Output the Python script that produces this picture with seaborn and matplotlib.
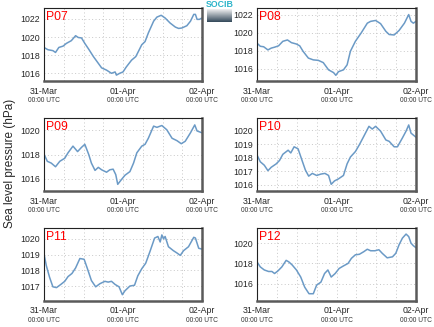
import numpy as np
import pandas as pd
import matplotlib
matplotlib.use("Agg")
import matplotlib.pyplot as plt
import matplotlib.dates as mdates
import seaborn as sns

# ---- data (hours since 31-Mar 00:00 UTC, sea level pressure hPa) ----
p07_h = [0, 1.2, 2.7, 3.5, 4.5, 5.8, 6.8, 8.3, 9.6, 10.4, 11.4, 12.4, 13.6, 15, 16.5, 17.5, 19, 20.5, 21.6, 22, 23, 24, 25, 26.6, 27.9, 29.7, 30.7, 31.7, 33.3, 34.3, 35.6, 36.8, 38.3, 39.9, 40.9, 41.9, 43.4, 44.5, 45.5, 46, 46.5, 47.2, 48]
p07_v = [1018.85, 1018.6, 1018.5, 1018.3, 1018.85, 1019.0, 1019.3, 1019.6, 1020.15, 1019.95, 1019.9, 1019.3, 1018.65, 1017.85, 1017.1, 1016.6, 1016.35, 1016.0, 1016.15, 1015.8, 1016.0, 1016.15, 1016.7, 1017.45, 1017.85, 1019.15, 1019.5, 1020.45, 1021.75, 1022.2, 1022.4, 1022.1, 1021.55, 1021.1, 1020.95, 1021.0, 1021.25, 1021.75, 1022.5, 1022.5, 1021.95, 1021.95, 1022.1]

p08_h = [0, 1, 2, 3.3, 4.3, 5.3, 6.5, 7.8, 9.2, 10.4, 11.9, 12.9, 13.9, 15.5, 17, 18.5, 20, 21.6, 23.1, 23.8, 24.6, 26.1, 27.2, 28.2, 29.7, 31.5, 33.3, 34.3, 35.8, 37.3, 38.9, 39.9, 41.4, 42.9, 44.5, 45.8, 46.5, 47.2, 48]
p08_v = [1018.85, 1018.5, 1018.45, 1018.1, 1018.3, 1018.4, 1018.55, 1019.05, 1019.2, 1018.9, 1018.75, 1018.55, 1017.95, 1017.2, 1017.0, 1016.95, 1016.7, 1015.9, 1015.6, 1015.3, 1015.7, 1015.9, 1016.45, 1017.95, 1019.05, 1020.0, 1021.05, 1021.25, 1021.35, 1021.0, 1020.15, 1019.8, 1019.75, 1020.25, 1021.05, 1022.0, 1021.25, 1021.05, 1021.25]

p09_h = [0, 1, 2.2, 3.5, 4.8, 6.3, 7.3, 8.8, 10.2, 11.4, 12.4, 13.6, 14.4, 15.5, 16.5, 17.5, 19, 20, 21, 21.8, 22.4, 23.4, 24.6, 26.1, 27.2, 28.2, 29.7, 30.7, 31.7, 33.3, 34.3, 35.8, 37.3, 38.9, 40.4, 41.7, 42.9, 44.5, 45.8, 46.5, 48]
p09_v = [1018.05, 1017.45, 1017.3, 1017.0, 1017.45, 1017.7, 1018.15, 1018.7, 1018.25, 1018.6, 1018.85, 1018.0, 1017.3, 1016.7, 1016.95, 1016.75, 1016.55, 1016.75, 1016.8, 1016.35, 1015.55, 1015.9, 1016.3, 1016.6, 1017.3, 1018.15, 1018.7, 1018.85, 1019.35, 1020.35, 1020.25, 1020.4, 1020.05, 1019.35, 1019.15, 1018.9, 1019.1, 1019.8, 1020.45, 1019.95, 1019.8]

p10_h = [0, 1, 2.2, 3.3, 4.3, 5.8, 6.8, 7.8, 9.4, 10.2, 11.2, 12.4, 13.6, 14.6, 15.6, 16.7, 18, 19.3, 20.5, 21.6, 22.4, 23.4, 24.6, 26.1, 27.2, 28.2, 29.7, 30.9, 32.2, 33.8, 34.8, 35.8, 37.3, 38.9, 39.9, 41.4, 42.4, 43.9, 45, 45.8, 46.5, 48]
p10_v = [1018.2, 1017.7, 1017.45, 1017.05, 1017.3, 1017.55, 1017.8, 1018.25, 1018.55, 1018.35, 1018.8, 1018.65, 1017.8, 1017.1, 1016.65, 1016.85, 1016.7, 1016.8, 1016.85, 1016.7, 1016.05, 1016.3, 1016.45, 1016.7, 1017.55, 1018.05, 1018.45, 1018.95, 1019.55, 1020.3, 1020.1, 1020.3, 1019.95, 1019.3, 1019.2, 1018.8, 1018.8, 1019.45, 1019.95, 1020.4, 1019.8, 1019.5]

p11_h = [0, 0.7, 1.7, 2.7, 3.8, 5.1, 6.3, 7.3, 8.5, 9.6, 10.9, 12.2, 13.2, 14.4, 15.7, 17, 18.5, 19.5, 20.5, 21.6, 22.8, 23.8, 24.6, 26.1, 27.5, 28.5, 29.7, 30.9, 32.2, 33.6, 34.6, 35.3, 35.8, 36.3, 36.8, 37.8, 39.3, 40.4, 41.4, 42.4, 43.9, 45.5, 46, 47, 48]
p11_v = [1019.05, 1018.3, 1017.55, 1016.95, 1016.9, 1017.1, 1017.3, 1017.6, 1017.8, 1018.15, 1018.75, 1018.7, 1018.1, 1017.35, 1016.95, 1017.15, 1017.3, 1017.25, 1017.3, 1017.1, 1016.95, 1016.45, 1016.7, 1017.0, 1017.05, 1017.65, 1018.1, 1018.45, 1019.2, 1020.05, 1020.15, 1019.8, 1020.25, 1020.0, 1020.15, 1019.5, 1019.25, 1019.1, 1018.95, 1019.25, 1019.5, 1020.1, 1020.05, 1019.4, 1019.35]

p12_h = [0, 1, 2.2, 3.5, 4.5, 5.3, 6.3, 7.5, 8.8, 9.6, 10.6, 11.9, 13.2, 14.4, 15.7, 17, 18, 19.3, 20.4, 21.4, 22.4, 23.6, 24.8, 26.1, 27.5, 28.5, 29.7, 30.9, 32.2, 33.3, 34.3, 35.6, 36.8, 37.8, 39.3, 40.9, 41.9, 42.9, 43.9, 45, 45.8, 46.5, 47.2, 48]
p12_v = [1018.15, 1017.65, 1017.35, 1017.2, 1017.2, 1017.0, 1017.25, 1017.65, 1018.3, 1018.15, 1017.85, 1017.35, 1016.65, 1015.65, 1015.0, 1015.0, 1015.85, 1016.15, 1017.0, 1017.35, 1016.65, 1017.0, 1017.5, 1017.75, 1018.0, 1018.5, 1018.85, 1018.9, 1019.15, 1019.4, 1019.25, 1019.25, 1019.35, 1019.0, 1018.55, 1018.65, 1019.0, 1019.85, 1020.5, 1020.9, 1020.65, 1020.0, 1019.75, 1019.55]

stations = ["P07", "P08", "P09", "P10", "P11", "P12"]
hours = [p07_h, p08_h, p09_h, p10_h, p11_h, p12_h]
values = [p07_v, p08_v, p09_v, p10_v, p11_v, p12_v]
ylims = [(1015.15, 1023.26), (1014.67, 1022.78), (1015.0, 1021.02),
         (1015.56, 1020.91), (1016.08, 1020.69), (1014.33, 1021.5)]
yticks = [[1016, 1018, 1020, 1022], [1016, 1018, 1020, 1022], [1016, 1018, 1020],
          [1016, 1017, 1018, 1019, 1020], [1017, 1018, 1019, 1020], [1016, 1018, 1020]]
xtick_dates = ["31-Mar", "01-Apr", "02-Apr"]
xtick_sub = "00:00 UTC"
ylabel = "Sea level pressure (hPa)"

start = pd.Timestamp("2013-03-31 00:00")

sns.set_style("white")
plt.rcParams["font.family"] = ["Liberation Sans", "DejaVu Sans"]

fig = plt.figure(figsize=(4.35, 3.27), dpi=100)

W, H = 435.0, 327.0
cols = [(44, 202), (257, 416)]
rows = [(7.5, 81), (118, 191), (228, 300.5)]

for i, (st, h, v) in enumerate(zip(stations, hours, values)):
    r, c = divmod(i, 2)
    x0, x1 = cols[c]
    t, b = rows[r]
    ax = fig.add_axes([x0 / W, 1 - b / H, (x1 - x0) / W, (b - t) / H])
    df = pd.DataFrame({"time": start + pd.to_timedelta(h, unit="h"), "slp": v})
    sns.lineplot(data=df, x="time", y="slp", ax=ax, color="#6b9ac6", lw=1.1)
    ax.set_xlim(start, start + pd.Timedelta(hours=48))
    ax.set_ylim(*ylims[i])
    ax.set_yticks(yticks[i])
    ax.set_yticklabels([str(y) for y in yticks[i]], fontsize=6.3)
    ax.set_xticks([start + pd.Timedelta(hours=d) for d in (0, 24, 48)])
    ax.set_xticklabels(xtick_dates)
    ax.xaxis.set_minor_locator(mdates.HourLocator(byhour=[6, 12, 18]))
    ax.tick_params(axis="x", which="major", labelsize=6.3, pad=4, length=0)
    ax.tick_params(axis="y", length=0, pad=3)
    ax.tick_params(axis="x", which="minor", length=0)
    ax.grid(True, which="both", axis="x", color="#c8c8c8", ls=(0, (1, 2.5)), lw=0.7)
    ax.grid(True, which="major", axis="y", color="#c8c8c8", ls=(0, (1, 2.5)), lw=0.7)
    ax.set_xlabel("")
    ax.set_ylabel("")
    for s in ["top", "left"]:
        ax.spines[s].set_color("#222222")
        ax.spines[s].set_linewidth(0.8)
    for s in ["right", "bottom"]:
        ax.spines[s].set_color("#5a5a5a")
        ax.spines[s].set_linewidth(1.8)
    for d in (0, 24, 48):
        ax.text(start + pd.Timedelta(hours=d), -0.27, xtick_sub, fontsize=4.8,
                color="#333333", ha="center", va="center",
                transform=ax.get_xaxis_transform())
    ax.text(0.01, 0.955, st, transform=ax.transAxes, color="red", fontsize=8.8,
            ha="left", va="top")

fig.text(10 / W, 0.5, ylabel, rotation=90, fontsize=8.5, ha="center", va="center")

# SOCIB logo
fig.text(219.5 / W, 1 - 4.5 / H, "SOCIB", fontsize=6.3, color="#2ab3c9",
         ha="center", va="center", fontweight="bold")
lax = fig.add_axes([207 / W, 1 - 22 / H, 25 / W, 13 / H])
grad = np.linspace(0, 1, 50).reshape(-1, 1)
lax.imshow(grad, aspect="auto", cmap=sns.light_palette("#34495a", as_cmap=True))
lax.axis("off")

fig.savefig("out.png", dpi=100)
